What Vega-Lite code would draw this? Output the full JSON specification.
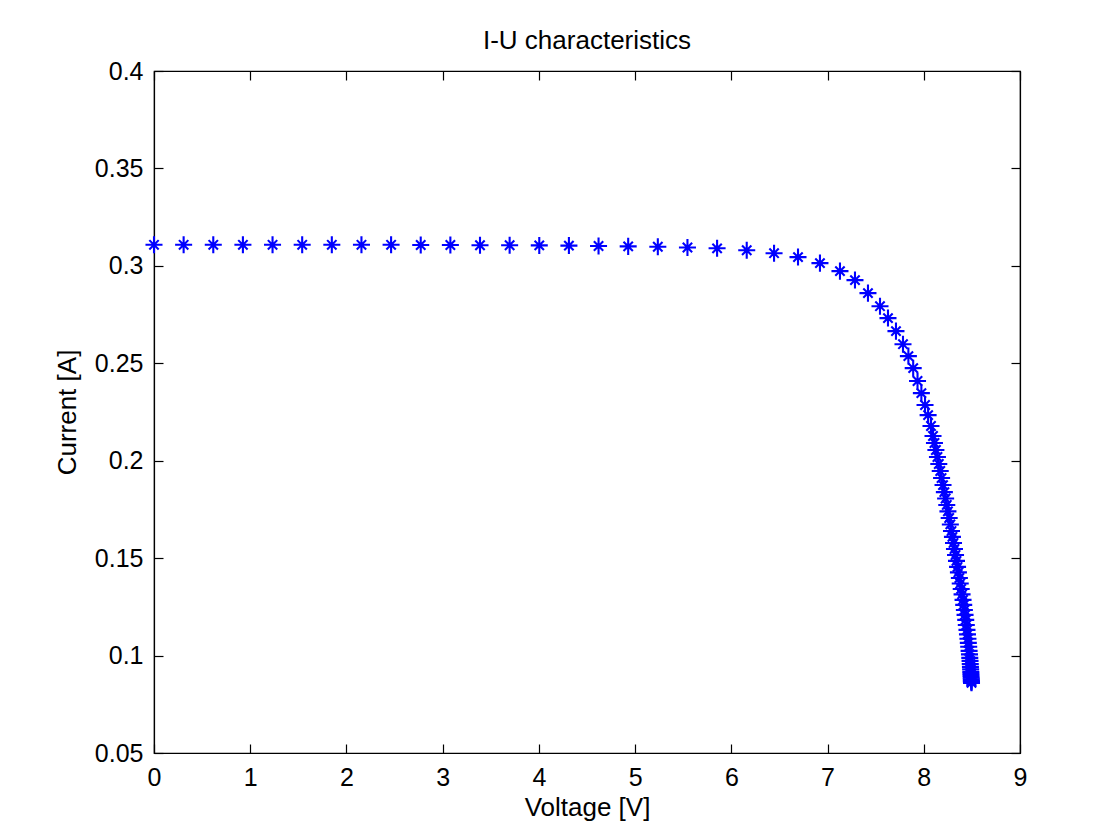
{
  "$schema": "https://vega.github.io/schema/vega-lite/v6.json",
  "width": 866,
  "height": 682,
  "autosize": {"type": "none"},
  "padding": {"left": 154, "top": 71, "right": 95, "bottom": 86},
  "background": "white",
  "title": {"text": "I-U characteristics", "offset": 5, "fontSize": 26, "fontWeight": "normal", "font": "Liberation Sans", "color": "black", "anchor": "middle"},
  "config": {
    "font": "Liberation Sans",
    "view": {"stroke": "black", "strokeWidth": 1.2},
    "axis": {"grid": false, "labelFontSize": 25, "titleFontSize": 26, "titleFontWeight": "normal", "labelColor": "black", "titleColor": "black", "tickColor": "black", "domainColor": "black", "domainWidth": 1.2, "tickWidth": 1.2, "labelFont": "Liberation Sans", "titleFont": "Liberation Sans"}
  },
  "data": {"values": [
    {"V": 0, "I": 0.3108}, {"V": 0.308, "I": 0.3108}, {"V": 0.616, "I": 0.3108}, {"V": 0.924, "I": 0.3108}, {"V": 1.232, "I": 0.3108},
    {"V": 1.54, "I": 0.3108}, {"V": 1.848, "I": 0.3108}, {"V": 2.156, "I": 0.3108}, {"V": 2.464, "I": 0.3108}, {"V": 2.772, "I": 0.3107},
    {"V": 3.08, "I": 0.3107}, {"V": 3.388, "I": 0.3106}, {"V": 3.696, "I": 0.3106}, {"V": 4.004, "I": 0.3105}, {"V": 4.312, "I": 0.3104},
    {"V": 4.62, "I": 0.3102}, {"V": 4.928, "I": 0.31}, {"V": 5.236, "I": 0.3098}, {"V": 5.544, "I": 0.3094}, {"V": 5.852, "I": 0.309},
    {"V": 6.16, "I": 0.308}, {"V": 6.444, "I": 0.3065}, {"V": 6.693, "I": 0.3045}, {"V": 6.921, "I": 0.3014}, {"V": 7.129, "I": 0.2973},
    {"V": 7.285, "I": 0.2927}, {"V": 7.42, "I": 0.286}, {"V": 7.545, "I": 0.2793}, {"V": 7.628, "I": 0.2732}, {"V": 7.711, "I": 0.2665},
    {"V": 7.784, "I": 0.2598}, {"V": 7.84, "I": 0.2537}, {"V": 7.89, "I": 0.2475}, {"V": 7.935, "I": 0.2409}, {"V": 7.975, "I": 0.2347},
    {"V": 8.013, "I": 0.2286}, {"V": 8.045, "I": 0.2234}, {"V": 8.075, "I": 0.2178}, {"V": 8.096, "I": 0.2127}, {"V": 8.111, "I": 0.2091},
    {"V": 8.126, "I": 0.2055}, {"V": 8.142, "I": 0.2019}, {"V": 8.156, "I": 0.1983}, {"V": 8.171, "I": 0.1947}, {"V": 8.185, "I": 0.1911},
    {"V": 8.2, "I": 0.1875}, {"V": 8.214, "I": 0.1839}, {"V": 8.227, "I": 0.1806}, {"V": 8.239, "I": 0.1773}, {"V": 8.251, "I": 0.174},
    {"V": 8.264, "I": 0.1706}, {"V": 8.276, "I": 0.1673}, {"V": 8.288, "I": 0.1639}, {"V": 8.298, "I": 0.1609}, {"V": 8.309, "I": 0.1578},
    {"V": 8.319, "I": 0.1547}, {"V": 8.33, "I": 0.1516}, {"V": 8.34, "I": 0.1486}, {"V": 8.351, "I": 0.1455}, {"V": 8.36, "I": 0.1427},
    {"V": 8.37, "I": 0.1398}, {"V": 8.379, "I": 0.137}, {"V": 8.389, "I": 0.1342}, {"V": 8.398, "I": 0.1314}, {"V": 8.408, "I": 0.1286},
    {"V": 8.415, "I": 0.126}, {"V": 8.422, "I": 0.1234}, {"V": 8.429, "I": 0.1209}, {"V": 8.436, "I": 0.1183}, {"V": 8.442, "I": 0.1157},
    {"V": 8.449, "I": 0.1132}, {"V": 8.454, "I": 0.1109}, {"V": 8.459, "I": 0.1086}, {"V": 8.463, "I": 0.1065}, {"V": 8.467, "I": 0.1045},
    {"V": 8.471, "I": 0.1024}, {"V": 8.475, "I": 0.1006}, {"V": 8.478, "I": 0.0988}, {"V": 8.481, "I": 0.0973}, {"V": 8.483, "I": 0.0957},
    {"V": 8.485, "I": 0.0942}, {"V": 8.487, "I": 0.0929}, {"V": 8.489, "I": 0.0916}, {"V": 8.49, "I": 0.0906}, {"V": 8.491, "I": 0.0896},
    {"V": 8.493, "I": 0.0886}, {"V": 8.494, "I": 0.0878}, {"V": 8.495, "I": 0.087}, {"V": 8.495, "I": 0.0865}, {"V": 8.496, "I": 0.086}
  ]},
  "layer": [
    {
      "mark": {"type": "point", "shape": "M-1,0L1,0M0,-1L0,1M-0.55,-0.55L0.55,0.55M-0.55,0.55L0.55,-0.55", "filled": false, "size": 290, "strokeWidth": 2.1, "color": "#0000ff", "opacity": 1},
      "encoding": {
        "x": {"field": "V", "type": "quantitative", "scale": {"domain": [0, 9], "nice": false, "zero": false},
              "axis": {"orient": "bottom", "values": [0, 1, 2, 3, 4, 5, 6, 7, 8, 9], "format": "d", "tickSize": -9, "labelPadding": 21, "title": "Voltage [V]", "titlePadding": 4, "labelFlush": false}},
        "y": {"field": "I", "type": "quantitative", "scale": {"domain": [0.05, 0.4], "nice": false, "zero": false},
              "axis": {"orient": "left", "values": [0.05, 0.1, 0.15, 0.2, 0.25, 0.3, 0.35, 0.4], "format": ".2~f", "tickSize": -9, "labelPadding": 20, "title": "Current [A]", "titlePadding": 14, "labelFlush": false}}
      }
    },
    {
      "mark": {"type": "point", "opacity": 0},
      "encoding": {
        "x": {"field": "V", "type": "quantitative", "axis": {"orient": "top", "values": [0, 1, 2, 3, 4, 5, 6, 7, 8, 9], "labels": false, "tickSize": -9, "title": null}},
        "y": {"field": "I", "type": "quantitative", "axis": {"orient": "right", "values": [0.05, 0.1, 0.15, 0.2, 0.25, 0.3, 0.35, 0.4], "labels": false, "tickSize": -9, "title": null}}
      }
    }
  ],
  "resolve": {"axis": {"x": "independent", "y": "independent"}}
}
